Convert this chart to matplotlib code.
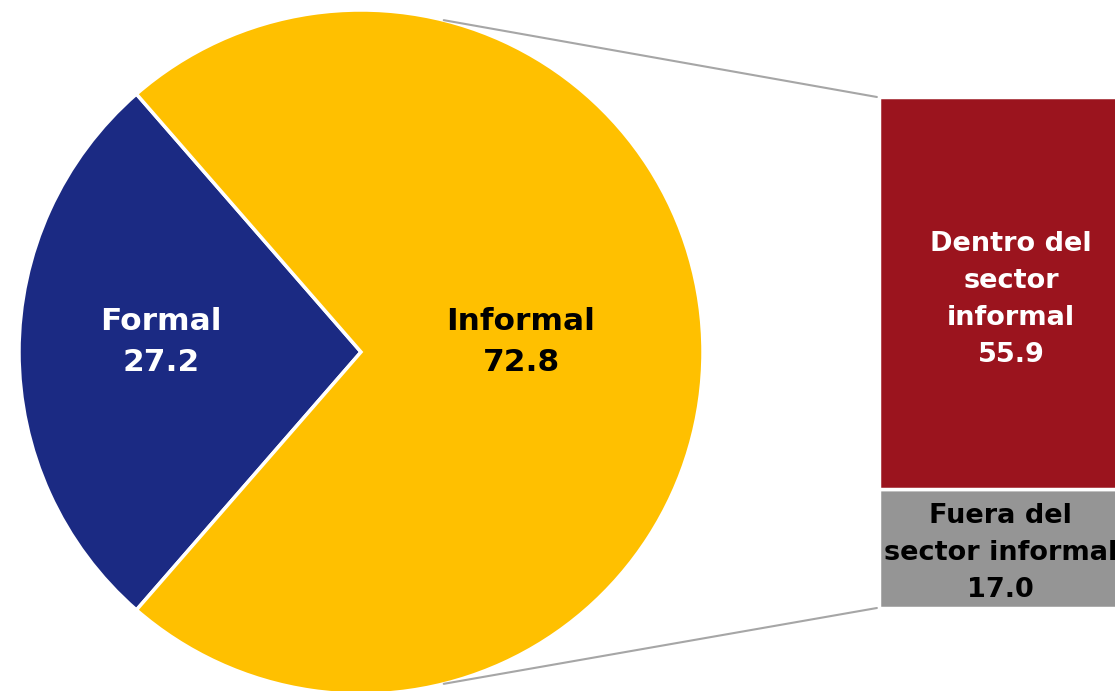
import matplotlib.pyplot as plt
import numpy as np
from matplotlib.patches import ConnectionPatch

# employment split (%)
pie_labels = ['Formal', 'Informal']
pie_values = [27.2, 72.8]
bar_labels = ['Fuera del\nsector informal', 'Dentro del\nsector\ninformal']
bar_values = [17.0, 55.9]

navy = '#1B2A83'
yellow = '#FFC000'
red = '#9B141E'
grey = '#959595'

W, H = 1115, 691
fig = plt.figure(figsize=(W / 100, H / 100), dpi=100)

# pie: centre (361, 352) px, radius 342 px
cx, cy, r = 361, 352, 342
ax_pie = fig.add_axes([(cx - r) / W, (H - cy - r) / H, 2 * r / W, 2 * r / H])
span = pie_values[0] / 100 * 360
ax_pie.pie(pie_values, colors=[navy, yellow], startangle=180 - span / 2,
           counterclock=True, radius=1,
           wedgeprops=dict(edgecolor='white', linewidth=2.5))
ax_pie.set_xlim(-1, 1)
ax_pie.set_ylim(-1, 1)
ax_pie.set_aspect('auto')
ax_pie.axis('off')

font = dict(family='DejaVu Sans', fontweight='bold', fontsize=22.5,
            ha='center', va='center', linespacing=1.53)
ax_pie.text(-0.585, 0.03, f'{pie_labels[0]}\n{pie_values[0]:.1f}', color='white', **font)
ax_pie.text(0.468, 0.03, f'{pie_labels[1]}\n{pie_values[1]:.1f}', color='black', **font)

# stacked bar for the informal part
bx0, bx1, by0, by1 = 879, 1143, 97, 608
ax_bar = fig.add_axes([bx0 / W, (H - by1) / H, (bx1 - bx0) / W, (by1 - by0) / H])
total = sum(bar_values)
ax_bar.bar(0, bar_values[0], width=1, color=grey, edgecolor='white', linewidth=2.5)
ax_bar.bar(0, bar_values[1], bottom=bar_values[0], width=1, color=red,
           edgecolor='white', linewidth=2.5)
ax_bar.set_xlim(-0.5, 0.5)
ax_bar.set_ylim(0, total)
ax_bar.axis('off')

bfont = dict(font, fontsize=19.5, linespacing=1.55)
ax_bar.text(-0.04, bar_values[0] / 2 - 0.7, f'{bar_labels[0]}\n{bar_values[0]:.1f}',
            color='black', clip_on=False, **bfont)
ax_bar.text(0.0, bar_values[0] + bar_values[1] / 2 - 0.9,
            f'{bar_labels[1]}\n{bar_values[1]:.1f}', color='white', **bfont)

# connector lines from the pie edge to the bar corners
ang = np.deg2rad(76)
for sgn, yb in [(1, total), (-1, 0)]:
    con = ConnectionPatch(xyA=(np.cos(ang), sgn * np.sin(ang)), coordsA=ax_pie.transData,
                          xyB=(-0.508, yb), coordsB=ax_bar.transData,
                          color='#A6A6A6', linewidth=1.5)
    fig.add_artist(con)

fig.savefig('out.png', dpi=100, facecolor='white')
